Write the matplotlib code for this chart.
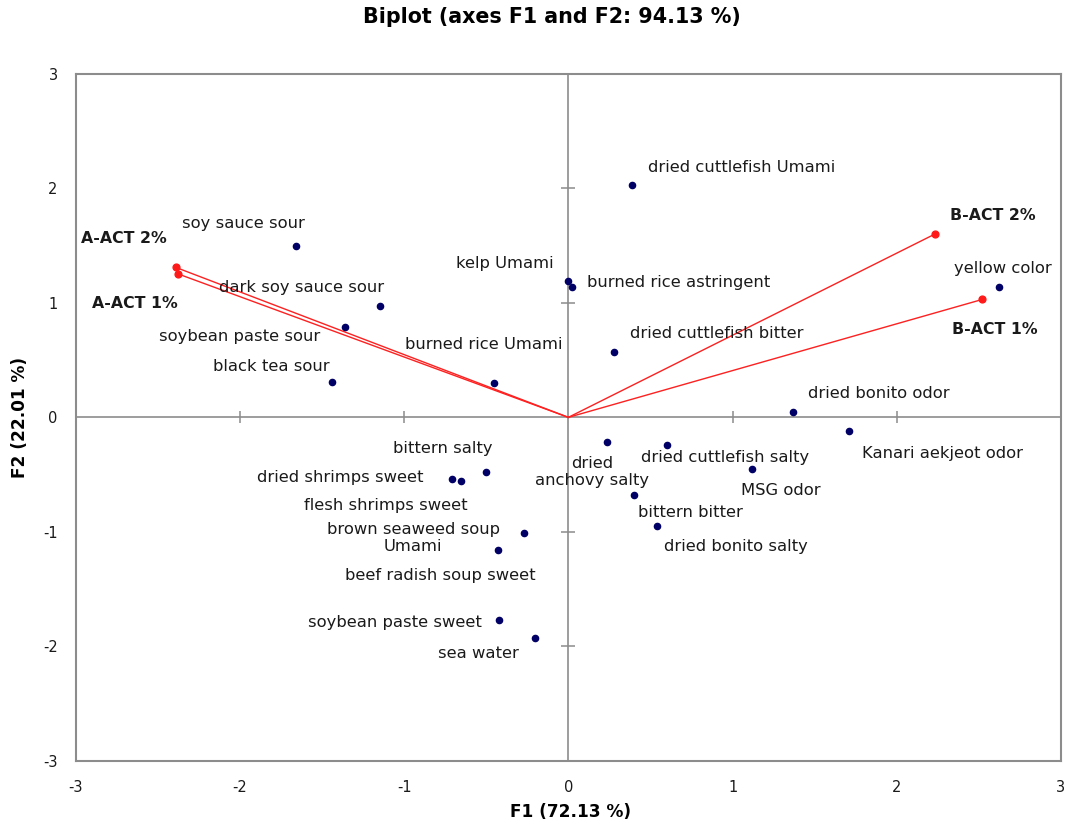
import matplotlib
matplotlib.use("Agg")
import matplotlib.pyplot as plt

plt.rcParams['font.family'] = ['DejaVu Sans']

# ---- data ----
obs_names = ["soy sauce sour", "dark soy sauce sour", "soybean paste sour", "black tea sour",
             "burned rice Umami", "kelp Umami", "burned rice astringent", "dried cuttlefish Umami",
             "dried cuttlefish bitter", "yellow color", "dried bonito odor", "Kanari aekjeot odor",
             "dried\nanchovy salty", "dried cuttlefish salty", "MSG odor", "bittern bitter",
             "dried bonito salty", "bittern salty", "dried shrimps sweet", "flesh shrimps sweet",
             "brown seaweed soup\nUmami", "beef radish soup sweet", "soybean paste sweet", "sea water"]
obs_f1 = [-1.66, -1.15, -1.36, -1.44, -0.45, 0.00, 0.02, 0.39, 0.28, 2.62, 1.37, 1.71,
          0.235, 0.60, 1.12, 0.40, 0.54, -0.50, -0.71, -0.655, -0.27, -0.43, -0.42, -0.205]
obs_f2 = [1.50, 0.97, 0.79, 0.31, 0.30, 1.19, 1.14, 2.03, 0.575, 1.14, 0.05, -0.12,
          -0.215, -0.24, -0.455, -0.68, -0.945, -0.48, -0.535, -0.56, -1.01, -1.16, -1.77, -1.93]

var_names = ["A-ACT 2%", "A-ACT 1%", "B-ACT 2%", "B-ACT 1%"]
var_f1 = [-2.39, -2.38, 2.23, 2.52]
var_f2 = [1.31, 1.255, 1.60, 1.03]

ticks = [-3, -2, -1, 0, 1, 2, 3]
title = "Biplot (axes F1 and F2: 94.13 %)"
xlabel = "F1 (72.13 %)"
ylabel = "F2 (22.01 %)"

# ---- label placement (offset pixels, horizontal alignment) ----
obs_offsets = [(-114, 22, 'left'), (-161, 19, 'left'), (-186, -10, 'left'), (-119, 15, 'left'),
               (-89, 39, 'left'), (-112, 18, 'left'), (15, 4, 'left'), (16, 18, 'left'),
               (16, 18, 'left'), (-45, 18, 'left'), (15, 18, 'left'), (13, -22, 'left'),
               (-15, -30, 'center'), (-26, -13, 'left'), (-11, -21, 'left'), (4, -17, 'left'),
               (7, -21, 'left'), (-93, 24, 'left'), (-195, 1, 'left'), (-157, -24, 'left'),
               (-111, -5, 'center'), (-153, -25, 'left'), (-191, -3, 'left'), (-97, -15, 'left')]
var_offsets = [(-95, 29), (-86, -30), (15, 19), (-30, -30)]

W, H, DPI = 1066, 826, 100
fig = plt.figure(figsize=(W / DPI, H / DPI), dpi=DPI)
ax = fig.add_axes([75.7 / W, 1 - 760.7 / H, (1061 - 75.7) / W, (760.7 - 74) / H])

gray = '#8c8c8c'
ax.set_xlim(-3, 3)
ax.set_ylim(-3, 3)
for s in ax.spines.values():
    s.set_color(gray)
    s.set_linewidth(1.5)

ax.axhline(0, color=gray, lw=1.2, zorder=1)
ax.axvline(0, color=gray, lw=1.2, zorder=1)
inner = [t for t in ticks if t not in (-3, 0, 3)]
ax.plot(inner, [0] * len(inner), ls='none', marker='|', ms=9, mew=1.1, color=gray, zorder=1)
ax.plot([0] * len(inner), inner, ls='none', marker='_', ms=10, mew=1.1, color=gray, zorder=1)

ax.set_xticks(ticks)
ax.set_yticks(ticks)
ax.set_xticklabels([str(t) for t in ticks])
ax.set_yticklabels([str(t) for t in ticks])
ax.tick_params(length=0, labelsize=10.5, colors='#1a1a1a')
ax.tick_params(axis='x', pad=14)
ax.tick_params(axis='y', pad=13)

# vectors
for x, y in zip(var_f1, var_f2):
    ax.plot([0, x], [0, y], color='#ff2020', lw=1.0, zorder=2)
ax.scatter(var_f1, var_f2, s=24, color='#ff1a1a', zorder=3)
for name, x, y, (dx, dy) in zip(var_names, var_f1, var_f2, var_offsets):
    ax.annotate(name, (x, y), xytext=(dx, dy), textcoords='offset pixels',
                ha='left', va='center', fontsize=11.3, fontweight='bold', color='#1a1a1a')

# observations
ax.scatter(obs_f1, obs_f2, s=20, color='#000066', zorder=3)
for name, x, y, (dx, dy, ha) in zip(obs_names, obs_f1, obs_f2, obs_offsets):
    ax.annotate(name, (x, y), xytext=(dx, dy), textcoords='offset pixels',
                ha=ha, va='center', fontsize=11.8, color='#1a1a1a', linespacing=1.2)

fig.text(552 / W, 1 - 17 / H, title, ha='center', va='center', fontsize=14.9, fontweight='bold')
fig.text(571 / W, 1 - 812 / H, xlabel, ha='center', va='center', fontsize=12.2, fontweight='bold')
fig.text(20 / W, 1 - 417 / H, ylabel, ha='center', va='center', rotation=90,
         fontsize=12.2, fontweight='bold')

fig.savefig('out.png', dpi=DPI)
